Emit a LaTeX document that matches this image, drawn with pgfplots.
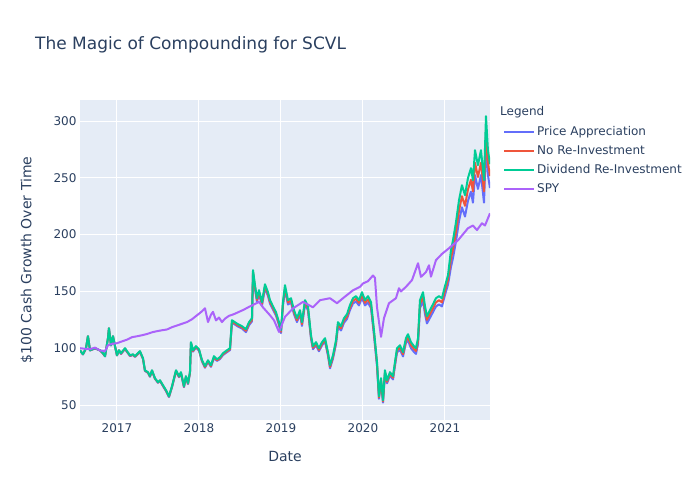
\documentclass[border=0pt]{standalone}
\usepackage{fontspec}
\setmainfont{DejaVu Sans}
\usepackage{pgfplots}
\usepackage{pgfplotstable}
\pgfplotsset{compat=1.18}

\definecolor{plotbg}{HTML}{E5ECF6}
\definecolor{fontc}{HTML}{2A3F5F}
\definecolor{cblue}{HTML}{636EFA}
\definecolor{cred}{HTML}{EF553B}
\definecolor{cgreen}{HTML}{00CC96}
\definecolor{cpurple}{HTML}{AB63FA}

% SCVL: price only, price + cash dividends, dividends re-invested
\pgfplotstableread{
x price noreinv div
2016.549 98.0 98.1 98.2
2016.585 94.5 94.6 94.7
2016.622 99.8 99.9 100.0
2016.646 110.4 110.5 110.6
2016.671 98.0 98.1 98.2
2016.732 99.8 99.9 100.0
2016.793 98.0 98.1 98.2
2016.829 95.4 95.5 95.6
2016.854 92.8 92.9 93.0
2016.890 108.6 108.7 108.8
2016.902 117.4 117.5 117.6
2016.927 102.4 102.5 102.6
2016.951 110.4 110.5 110.6
2016.976 101.6 101.7 101.8
2017.000 93.6 93.7 93.8
2017.024 98.0 98.1 98.2
2017.049 94.9 95.2 95.6
2017.098 99.3 99.6 100.0
2017.122 96.7 97.0 97.4
2017.159 93.1 93.4 93.8
2017.195 94.0 94.3 94.7
2017.220 92.3 92.6 93.0
2017.280 96.7 97.0 97.4
2017.317 90.6 90.8 91.2
2017.341 80.0 80.3 80.6
2017.378 78.3 78.6 78.9
2017.402 74.9 75.1 75.4
2017.427 80.0 80.3 80.6
2017.463 73.1 73.3 73.6
2017.500 69.6 69.8 70.1
2017.524 71.3 71.5 71.8
2017.561 66.6 67.0 67.4
2017.598 62.2 62.6 63.0
2017.634 57.0 57.4 57.7
2017.671 65.7 66.1 66.5
2017.720 79.6 80.1 80.6
2017.756 74.5 74.9 75.4
2017.780 78.0 78.4 78.9
2017.817 65.7 66.1 66.5
2017.841 74.5 74.9 75.4
2017.866 68.4 68.8 69.2
2017.890 78.0 78.4 78.9
2017.902 104.0 104.7 105.3
2017.927 97.0 97.6 98.2
2017.963 100.6 101.2 101.8
2018.000 97.9 98.5 99.1
2018.037 88.3 88.9 89.4
2018.073 82.8 83.4 84.2
2018.110 87.9 88.6 89.4
2018.146 83.6 84.2 85.0
2018.183 91.4 92.2 93.0
2018.220 88.8 89.5 90.3
2018.256 90.5 91.3 92.1
2018.293 94.0 94.7 95.6
2018.341 96.5 97.3 98.2
2018.378 98.3 99.1 100.0
2018.402 122.5 123.5 124.6
2018.439 120.8 121.8 122.9
2018.476 119.0 120.0 121.1
2018.524 117.4 118.3 119.4
2018.573 114.1 115.4 116.7
2018.610 120.2 121.5 122.9
2018.646 123.6 125.0 126.4
2018.659 165.0 166.8 168.7
2018.683 152.1 153.8 155.5
2018.707 140.8 142.4 144.0
2018.732 147.8 149.4 151.1
2018.768 137.4 139.0 140.5
2018.805 152.9 154.6 156.3
2018.841 146.0 147.7 149.3
2018.866 139.2 140.7 142.3
2018.902 134.0 135.5 137.0
2018.939 128.8 130.3 131.7
2018.976 120.2 121.5 122.9
2019.000 113.3 114.5 115.8
2019.024 137.4 139.0 140.5
2019.049 151.3 153.3 155.5
2019.085 138.5 140.3 142.3
2019.122 140.1 142.0 144.0
2019.159 129.9 131.6 133.5
2019.195 123.0 124.6 126.4
2019.232 129.9 131.6 133.5
2019.256 119.6 121.2 122.9
2019.293 138.5 140.3 142.3
2019.329 133.3 135.1 137.0
2019.366 108.4 109.8 111.4
2019.390 99.1 100.4 101.8
2019.427 102.5 103.8 105.3
2019.463 97.3 98.6 100.0
2019.500 102.5 103.8 105.3
2019.537 105.9 107.3 108.8
2019.573 93.4 95.0 96.5
2019.598 82.3 83.6 85.0
2019.634 90.8 92.3 93.8
2019.671 103.6 105.3 107.0
2019.695 119.0 120.9 122.9
2019.732 115.6 117.5 119.4
2019.768 122.4 124.4 126.4
2019.805 125.7 127.8 129.9
2019.841 133.5 135.7 137.9
2019.878 139.4 141.7 144.0
2019.915 141.1 143.5 145.8
2019.951 137.7 140.0 142.3
2019.988 144.5 146.9 149.3
2020.024 137.7 140.0 142.3
2020.061 140.3 143.0 145.8
2020.098 135.2 137.8 140.5
2020.134 111.4 113.6 115.8
2020.171 84.4 86.0 87.7
2020.195 55.5 56.6 57.7
2020.220 70.8 72.2 73.6
2020.244 52.1 53.2 54.2
2020.268 77.5 79.1 80.6
2020.293 69.1 70.4 71.8
2020.329 75.9 77.4 78.9
2020.366 72.5 74.0 75.4
2020.390 84.4 86.0 87.7
2020.415 96.2 98.1 100.0
2020.451 98.7 100.7 102.6
2020.488 92.8 94.7 96.5
2020.524 104.7 106.7 108.8
2020.549 106.7 109.5 112.3
2020.585 100.0 102.7 105.3
2020.622 96.7 99.3 101.8
2020.646 95.0 97.5 100.0
2020.671 103.4 106.1 108.8
2020.695 135.2 138.7 142.3
2020.732 141.8 145.6 149.3
2020.756 130.2 133.6 137.0
2020.780 121.8 125.0 128.2
2020.817 126.8 130.2 133.5
2020.854 131.8 135.2 138.7
2020.890 136.8 140.4 144.0
2020.927 138.5 142.2 145.8
2020.963 136.8 140.4 144.0
2021.000 146.9 150.7 154.6
2021.037 156.1 160.2 164.3
2021.073 171.4 178.8 186.3
2021.098 179.5 187.3 195.1
2021.134 194.0 202.5 210.9
2021.171 211.9 221.1 230.3
2021.207 224.0 233.8 243.5
2021.244 215.9 225.3 234.7
2021.280 229.7 239.7 249.7
2021.317 237.8 248.2 258.5
2021.341 228.1 238.0 247.9
2021.366 252.4 263.3 274.3
2021.402 240.2 250.7 261.1
2021.439 252.4 263.3 274.3
2021.476 228.1 238.0 247.9
2021.500 279.9 292.0 304.2
2021.524 252.4 263.3 274.3
2021.549 241.0 251.5 262.0
}\scvl

% SPY benchmark
\pgfplotstableread{
x spy
2016.549 100.0
2016.610 99.5
2016.671 99.2
2016.732 100.5
2016.793 98.0
2016.854 97.5
2016.890 102.6
2016.951 104.0
2017.000 104.4
2017.061 106.0
2017.122 107.5
2017.183 109.7
2017.244 110.5
2017.305 111.4
2017.366 112.5
2017.427 114.0
2017.488 115.0
2017.549 115.8
2017.610 116.5
2017.671 118.5
2017.732 120.0
2017.793 121.5
2017.854 123.0
2017.915 125.5
2017.976 129.0
2018.037 132.5
2018.073 135.2
2018.110 123.0
2018.146 129.5
2018.171 132.0
2018.207 124.5
2018.244 127.0
2018.280 123.0
2018.317 126.0
2018.366 128.5
2018.427 130.0
2018.488 132.0
2018.549 134.0
2018.610 136.4
2018.671 138.5
2018.732 140.8
2018.780 136.0
2018.829 132.0
2018.866 129.0
2018.915 124.6
2018.976 114.3
2019.049 127.6
2019.146 135.0
2019.268 140.8
2019.390 136.0
2019.476 142.3
2019.598 144.0
2019.683 139.6
2019.756 144.0
2019.878 151.0
2019.963 154.0
2020.000 157.0
2020.061 159.0
2020.122 164.0
2020.146 162.0
2020.171 136.0
2020.220 110.0
2020.256 126.4
2020.317 139.6
2020.402 144.0
2020.439 152.8
2020.463 150.0
2020.524 154.0
2020.598 160.0
2020.671 174.8
2020.707 162.8
2020.768 167.0
2020.805 173.0
2020.829 163.0
2020.890 177.5
2020.963 183.0
2021.049 188.0
2021.159 195.0
2021.280 205.6
2021.341 208.0
2021.390 204.0
2021.451 210.0
2021.488 208.0
2021.549 218.8
}\spy

\begin{document}
\begin{tikzpicture}[x=1pt,y=1pt]
\path (0,0) rectangle (700,500);
\node[anchor=west, text=fontc, font=\fontsize{17}{20}\selectfont, inner sep=0pt] at (35,455) {The Magic of Compounding for SCVL};
\node[text=fontc, font=\fontsize{14}{16}\selectfont] at (285,44) {Date};
\node[text=fontc, font=\fontsize{14}{16}\selectfont, rotate=90] at (27,240) {\$100 Cash Growth Over Time};
\node[anchor=west, text=fontc, font=\fontsize{12}{14}\selectfont, inner sep=0pt] at (500,388) {Legend};
\begin{axis}[
    at={(80pt,80pt)}, anchor=south west,
    scale only axis, width=410pt, height=320pt,
    xmin=2016.549, xmax=2021.549,
    ymin=36.8, ymax=318.5,
    xtick={2017,2018,2019,2020,2021},
    ytick={50,100,150,200,250,300},
    /pgf/number format/assume math mode=true,
    /pgf/number format/1000 sep={},
    axis background/.style={fill=plotbg},
    axis line style={draw=none},
    major tick length=0pt,
    grid=major,
    grid style={white, line width=1pt},
    tick label style={font=\fontsize{12}{14}\selectfont, text=fontc},
    legend style={at={(1.0244,0.931)}, anchor=north west, draw=none, fill=none,
        font=\fontsize{12}{14}\selectfont, text=fontc, row sep=4.6pt},
    legend cell align=left,
    legend image code/.code={\draw[#1] (0pt,0pt) -- (30pt,0pt);},
    every axis plot/.append style={line width=2pt, line join=round},
]
\addplot[cblue] table[x=x, y=price] {\scvl};
\addlegendentry{Price Appreciation}
\addplot[cred] table[x=x, y=noreinv] {\scvl};
\addlegendentry{No Re-Investment}
\addplot[cgreen] table[x=x, y=div] {\scvl};
\addlegendentry{Dividend Re-Investment}
\addplot[cpurple] table[x=x, y=spy] {\spy};
\addlegendentry{SPY}
\end{axis}
\end{tikzpicture}
\end{document}
